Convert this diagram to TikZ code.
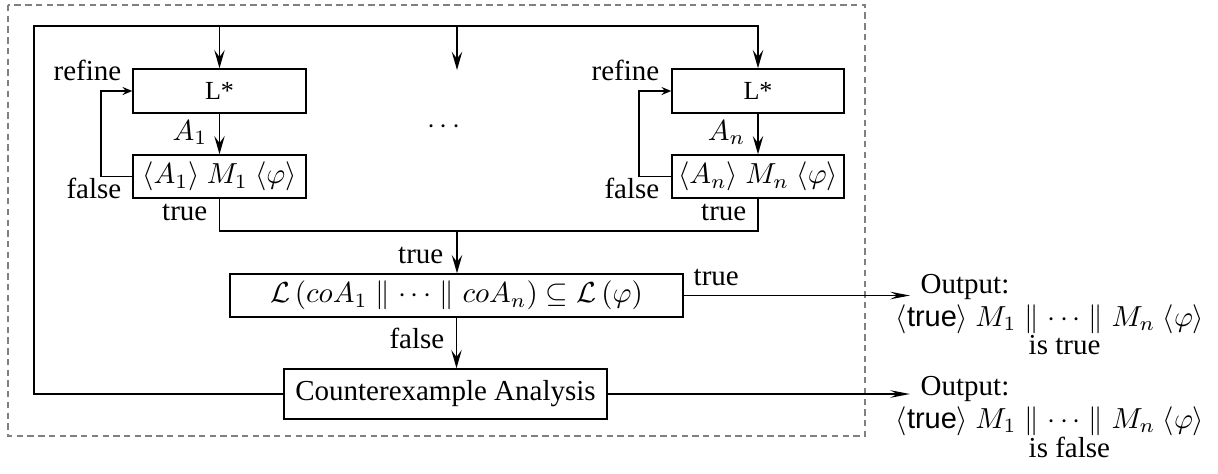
\documentclass[tikz,border=0pt]{standalone}
\usepackage[no-math]{fontspec}
\setmainfont{Liberation Serif}
\setsansfont{Liberation Sans}
\usetikzlibrary{arrows.meta}
\begin{document}
\begin{tikzpicture}[x=0.345pt,y=-0.345pt,
  line width=0.5pt,
  box/.style 2 args={draw, inner sep=0pt, minimum width=#1*0.345pt, minimum height=#2*0.345pt},
  lbl/.style={inner sep=0pt},
  arr/.style={-{Stealth[length=6.3pt,width=3.6pt,inset=2.4pt]}},
  harr/.style={-{Stealth[length=6.8pt,width=2.6pt,inset=2.4pt]}},
  sarr/.style={-{Stealth[length=3.4pt,width=2.8pt,inset=1.2pt]}},
  frame/.style={draw=gray, dash pattern=on 2.2pt off 1.5pt}]
\useasboundingbox (0,0) rectangle (1218,473);
\draw[frame] (8,5) rectangle (865,436);
% boxes
\node[box={173}{44}, font=\small] (l1) at (219.5,91) {L*};
\node[box={173}{43}] (m1) at (219.5,176.5) {$\langle A_1\rangle\ M_1\ \langle\varphi\rangle$};
\node[box={172}{44}, font=\small] (ln) at (758,91) {L*};
\node[box={172}{43}] (mn) at (758,176.5) {$\langle A_n\rangle\ M_n\ \langle\varphi\rangle$};
\node[box={453}{43}] (chk) at (456.5,295.5) {$\mathcal{L}\left(coA_1 \parallel \cdots \parallel coA_n\right) \subseteq \mathcal{L}\left(\varphi\right)$};
\node[box={323}{50}] (cex) at (445.5,394) {Counterexample Analysis};
\node[lbl] (dots) at (444,127) {$\cdots$};
% coordinates
\coordinate (tl) at (34,26);
\coordinate (mid) at (457,70);
\coordinate (fb1) at (101,0);
\coordinate (fbn) at (639,0);
\coordinate (j) at (457,231);
\coordinate (o) at (910,0);
% outer loop
\draw[arr] (cex.west) -- (cex.west -| tl) -- (tl) -| (ln.north);
\draw[arr] (tl -| l1.north) -- (l1.north);
\draw[arr] (tl -| mid) -- (mid);
% inner loops
\draw[arr] (l1.south) -- (m1.north);
\draw[arr] (ln.south) -- (mn.north);
\draw[sarr] (m1.west) -- (m1.west -| fb1) -- (l1.west -| fb1) -- (l1.west);
\draw[sarr] (mn.west) -- (mn.west -| fbn) -- (ln.west -| fbn) -- (ln.west);
% merge
\draw (m1.south) |- (j) -| (mn.south);
\draw[arr] (j) -- (j |- chk.north);
\draw[arr] (chk.south) -- (chk.south |- cex.north);
% outputs
\draw[harr] (chk.east) -- (chk.east -| o);
\draw[harr] (cex.east) -- (cex.east -| o);
% labels
\node[lbl, anchor=base east] (rf1) at (122,80) {refine};
\node[lbl, anchor=base east] (fa1) at (122,198) {false};
\node[lbl, anchor=base east] (tr1) at (208,220) {true};
\node[lbl, anchor=base east] (a1) at (208,140) {$A_1$};
\node[lbl, anchor=base east] (rfn) at (660,80) {refine};
\node[lbl, anchor=base east] (fan) at (660,198) {false};
\node[lbl, anchor=base east] (trn) at (747,220) {true};
\node[lbl, anchor=base east] (an) at (746,140) {$A_n$};
\node[lbl, anchor=base east] (trc) at (444,263) {true};
\node[lbl, anchor=base east] (fac) at (445,348) {false};
\node[lbl, anchor=base west] (trr) at (693,285) {true};
% output texts
\node[lbl, anchor=base west] (out1) at (920,293) {Output:};
\node[lbl, anchor=base west] (fo1) at (895,326) {$\langle\textsf{true}\rangle\ M_1 \parallel \cdots \parallel M_n\ \langle\varphi\rangle$};
\node[lbl, anchor=base west] (is1) at (1028,354) {is true};
\node[lbl, anchor=base west] (out2) at (920,395) {Output:};
\node[lbl, anchor=base west] (fo2) at (895,428) {$\langle\textsf{true}\rangle\ M_1 \parallel \cdots \parallel M_n\ \langle\varphi\rangle$};
\node[lbl, anchor=base west] (is2) at (1028,457) {is false};
\end{tikzpicture}
\end{document}
